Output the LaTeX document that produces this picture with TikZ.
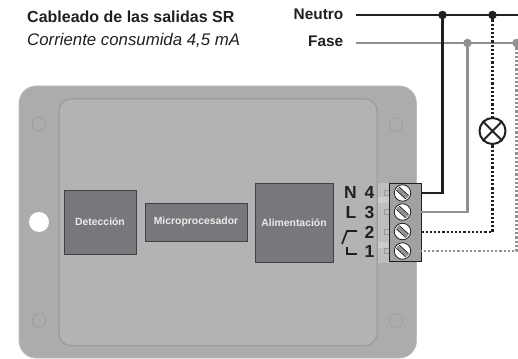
\documentclass[tikz,border=0pt]{standalone}
\usepackage{fontspec}
\setmainfont{Liberation Sans}
\definecolor{board}{HTML}{ABACAE}
\definecolor{inner}{HTML}{B2B3B5}
\definecolor{edge}{HTML}{97989A}
\definecolor{dark}{HTML}{77787B}
\definecolor{term}{HTML}{A0A1A3}
\definecolor{termb}{HTML}{BDBEC0}
\definecolor{termc}{HTML}{CACBCD}
\definecolor{wiregray}{HTML}{8F9092}
\definecolor{ink}{HTML}{231F20}
\tikzset{
 blockbox/.style={draw=ink!85,line width=.9pt,fill=dark,text=white!92!black,inner sep=0pt,font=\bfseries\fontsize{10.4}{11}\selectfont},
 hole/.style={circle,draw=edge,line width=.6pt,minimum size=13.5pt,inner sep=0pt},
 screw/.style={circle,draw=ink,line width=.8pt,fill=white,minimum size=16.5pt,inner sep=0pt},
 dot/.style={circle,fill=#1,minimum size=8.5pt,inner sep=0pt},
 lab/.style={font=\bfseries\fontsize{15.4}{16}\selectfont,text=ink,inner sep=0pt},
 term label/.style={font=\bfseries\fontsize{17.5}{18}\selectfont,text=ink,inner sep=0pt},
 blackwire/.style={ink,line width=2.4pt},
 graywire/.style={wiregray,line width=2.4pt},
 blackdots/.style={ink,line width=2.3pt,dash pattern=on 2.2pt off 2pt},
 graydots/.style={wiregray,line width=2.3pt,dash pattern=on 2.2pt off 2pt},
}
\begin{document}
\begin{tikzpicture}[x=1pt,y=-1pt]
\useasboundingbox (0,0) rectangle (518,358);
% board
\path[fill=board,draw=termb,line width=.6pt,rounded corners=17pt] (19,86) rectangle (416.5,358);
\path[fill=inner,draw=edge,line width=1pt,rounded corners=12pt] (59,99) rectangle (377,345.5);
\node[hole] (h1) at (39,124) {};
\node[hole] (h2) at (396,124.5) {};
\node[hole] (h3) at (39,320.5) {};
\node[hole] (h4) at (396,320.5) {};
\node[circle,fill=white,minimum size=20pt,inner sep=0pt] (h5) at (39,222) {};
% blocks
\node[blockbox,minimum width=72pt,minimum height=64pt] (det) at (100,222) {Detección};
\node[blockbox,minimum width=102pt,minimum height=38pt] (mic) at (196,222) {Microprocesador};
\node[blockbox,minimum width=78pt,minimum height=79pt] (ali) at (294,222.5) {Alimentación};
% terminal back
\fill[termb] (377.5,183) rectangle (390,263);
\fill[termc] (377.5,197) rectangle (390,203);
\fill[termc] (377.5,242) rectangle (390,248);
\foreach \y in {193,212,232,251} \draw[edge,line width=.6pt] (384,\y-2.5) rectangle (389,\y+2.5);
% wires
\coordinate (n0) at (356,15);
\coordinate (n1) at (518,15);
\coordinate (f0) at (356,43);
\coordinate (f1) at (518,43);
\node[term label] (lN) at (350.5,192) {N};
\node[term label] (lL) at (351,212) {L};
\node[term label] (l4) at (369.5,192) {4};
\node[term label] (l3) at (369.5,212) {3};
\node[term label] (l2) at (369.5,232) {2};
\node[term label] (l1) at (369.5,251) {1};
\draw[ink,line width=1.7pt] (342,244) -- (347,231) -- (357,231);
\draw[ink,line width=1.7pt] (347,247) -- (347,254) -- (357,254);
% terminal
\node[draw=ink,line width=.9pt,fill=term,minimum width=32pt,minimum height=78pt,inner sep=0pt] (tb) at (405,222) {};
\draw[graywire] (f0) -- (f1);
\draw[blackwire] (n0) -- (n1);
\node[dot=ink] (j1) at (442.5,15) {};
\node[dot=ink] (j2) at (492.5,15) {};
\node[dot=wiregray] (j3) at (467.5,43) {};
\node[dot=wiregray] (j4) at (516.5,43) {};
\node[screw] (s4) at (402.5,193) {};
\node[screw] (s3) at (402.5,212) {};
\node[screw] (s2) at (402.5,231.5) {};
\node[screw] (s1) at (402.5,251) {};
\foreach \s in {s1,s2,s3,s4} {
 \draw[wiregray,line width=2.6pt] ([shift={(-5,-4.5)}]\s.center) -- ([shift={(5,4.5)}]\s.center);
 \draw[ink,line width=.9pt] ([shift={(-6,-2.6)}]\s.center) -- ([shift={(3.2,5.8)}]\s.center);
 \draw[ink,line width=.9pt] ([shift={(-3.2,-5.8)}]\s.center) -- ([shift={(6,2.6)}]\s.center);
}
\coordinate (t4) at (421,193);
\coordinate (t3) at (421,212);
\coordinate (t2) at (421,232);
\coordinate (t1) at (421,251);
\draw[graywire] (j3) |- (t3);
\draw[blackwire] (j1) |- (t4);
\draw[blackdots] (j2) |- (t2);
\draw[graydots] (j4) |- (t1);
\node[circle,draw=ink,line width=2pt,fill=white,minimum size=26pt,inner sep=0pt] (lamp) at (492.5,131) {};
\draw[ink,line width=2pt] (lamp.north west) -- (lamp.south east) (lamp.north east) -- (lamp.south west);
% labels
\node[lab,anchor=east] (neu) at (343.5,14) {Neutro};
\node[lab,anchor=east] (fas) at (343.5,41.5) {Fase};
\node[lab,anchor=west,font=\bfseries\fontsize{16}{17}\selectfont] (tit) at (27,16.5) {Cableado de las salidas SR};
\node[font=\itshape\fontsize{16.8}{17}\selectfont,text=ink,anchor=west,inner sep=0pt] (sub) at (27,40) {Corriente consumida 4,5 mA};
\end{tikzpicture}
\end{document}
